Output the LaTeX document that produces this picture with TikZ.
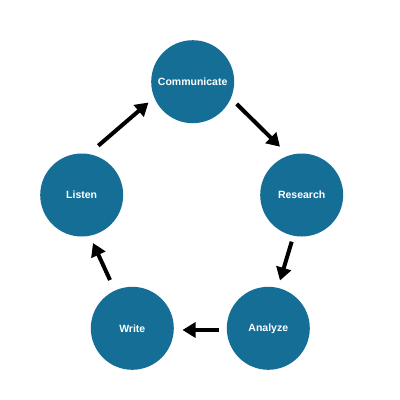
\documentclass[tikz,border=0pt]{standalone}
\usepackage{fontspec}
\setmainfont{Liberation Sans}
\usetikzlibrary{arrows.meta}
\definecolor{blueC}{RGB}{20,110,150}
\tikzset{
  stage/.style={circle, fill=blueC, minimum size=83pt, inner sep=0pt, text=white, font=\bfseries\fontsize{10.5}{12}\selectfont},
  arr/.style={line width=4pt, -{Triangle[width=15pt,length=13pt]}}
}
\begin{document}
\begin{tikzpicture}[x=1pt,y=-1pt]
\useasboundingbox[fill=white] (0,0) rectangle (400,400);
\node[stage] (comm) at (192.7,81.7) {Communicate};
\node[stage] (res) at (301.7,195) {Research};
\node[stage] (lis) at (81.7,195) {Listen};
\node[stage] (wri) at (132.3,328.3) {Write};
\node[stage] (ana) at (268.3,328.3) {Analyze};
\coordinate (a1s) at (236.7,104);
\coordinate (a1e) at (280,146.7);
\coordinate (a2s) at (291.7,241.7);
\coordinate (a2e) at (280,280.5);
\coordinate (a3s) at (219.3,330);
\coordinate (a3e) at (182.5,330);
\coordinate (a4s) at (110,280);
\coordinate (a4e) at (93,243);
\coordinate (a5s) at (98.3,145.7);
\coordinate (a5e) at (148.5,102.5);
\draw[arr] (a1s) -- (a1e);
\draw[arr] (a2s) -- (a2e);
\draw[arr] (a3s) -- (a3e);
\draw[arr] (a4s) -- (a4e);
\draw[arr] (a5s) -- (a5e);
\end{tikzpicture}
\end{document}
